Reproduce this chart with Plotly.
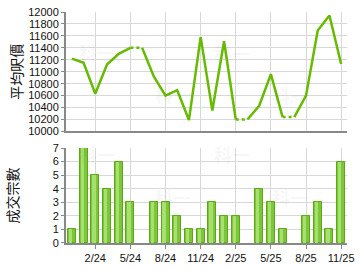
import plotly.graph_objects as go
from plotly.subplots import make_subplots

months = ["12/23","1/24","2/24","3/24","4/24","5/24","6/24","7/24","8/24","9/24","10/24","11/24",
          "12/24","1/25","2/25","3/25","4/25","5/25","6/25","7/25","8/25","9/25","10/25","11/25"]
avg_price = [11220,11150,10630,11120,11300,11400,11400,10920,10600,10690,10190,11580,
             10350,11510,10200,10200,10430,10960,10240,10240,10600,11690,11940,11130]
deals = [1,7,5,4,6,3,0,3,3,2,1,1,3,2,2,0,4,3,1,0,2,3,1,6]
tick_labels = ["2/24","5/24","8/24","11/24","2/25","5/25","8/25","11/25"]

idx = list(range(len(months)))
tick_idx = [months.index(t) for t in tick_labels]

# dotted segment leads into a month without deals (price carried forward)
sx, sy, dx, dy = [], [], [], []
for i in idx:
    if i > 0 and deals[i] == 0:
        sx.append(None); sy.append(None)
        dx += [i-1, i, None]; dy += [avg_price[i-1], avg_price[i], None]
    sx.append(i); sy.append(avg_price[i])

bar_y = [d if d > 0 else None for d in deals]

fig = make_subplots(rows=2, cols=1, vertical_spacing=0.0)
GREEN = "#66bb00"
fig.add_trace(go.Scatter(x=sx, y=sy, mode="lines", line=dict(color=GREEN, width=2.5),
                         connectgaps=False, hoverinfo="skip"), row=1, col=1)
fig.add_trace(go.Scatter(x=dx, y=dy, mode="lines", line=dict(color=GREEN, width=2.5, dash="dot"),
                         connectgaps=False, hoverinfo="skip"), row=1, col=1)
fig.add_trace(go.Bar(x=idx, y=bar_y, width=0.68, marker=dict(color="#7cc63a",
                     line=dict(color="#5aa814", width=1))), row=2, col=1)
fig.add_trace(go.Bar(x=idx, y=bar_y, width=0.28, offset=-0.26,
                     marker=dict(color="#a8e070", line=dict(width=0))), row=2, col=1)

fig.update_layout(
    width=360, height=270, margin=dict(l=66, r=6, t=8, b=26),
    paper_bgcolor="white", plot_bgcolor="white", showlegend=False,
    barmode="overlay", bargap=0,
    font=dict(family="Liberation Sans, Arial", size=11, color="#111111"),
)
fig.update_layout(yaxis=dict(domain=[0.483, 1.0]), yaxis2=dict(domain=[0.0, 0.411]))

for r in (1, 2):
    fig.update_xaxes(range=[-0.5, 23.5], tickvals=tick_idx, ticktext=tick_labels,
                     showgrid=True, gridcolor="#d8d8d8", gridwidth=1,
                     showline=True, linecolor="#888888", linewidth=2, zeroline=False,
                     fixedrange=True, ticklabeloverflow="allow", row=r, col=1)
fig.update_xaxes(showticklabels=False, ticks="", row=1, col=1)
fig.update_xaxes(ticks="outside", ticklen=4, tickcolor="#888888", row=2, col=1)

fig.update_yaxes(range=[10000, 12000], dtick=200, tickformat="d", showgrid=True, gridcolor="#d8d8d8",
                 showline=True, linecolor="#888888", linewidth=2, zeroline=False,
                 ticks="outside", ticklen=3, tickcolor="#888888",
                 title=dict(text="平均呎價", font=dict(size=14, family="Noto Sans CJK TC"), standoff=2),
                 row=1, col=1)
fig.update_yaxes(range=[0, 7], dtick=1, tickformat="d", showgrid=True, gridcolor="#d8d8d8",
                 showline=True, linecolor="#888888", linewidth=2, zeroline=False,
                 ticks="outside", ticklen=3, tickcolor="#888888",
                 title=dict(text="成交宗數", font=dict(size=14, family="Noto Sans CJK TC"), standoff=31),
                 row=2, col=1)

# faint watermarks
for px, py in [(77,34),(155,92),(236,35),(316,93),(77,153),(155,212),(236,153),(316,212)]:
    fig.add_annotation(x=(px-66)/288, y=(244-py)/236, xref="paper", yref="paper",
                       text="<b>科一</b>", showarrow=False,
                       font=dict(size=18, color="rgba(0,0,0,0.05)", family="Noto Sans CJK TC"))

fig.write_html("out.html")
